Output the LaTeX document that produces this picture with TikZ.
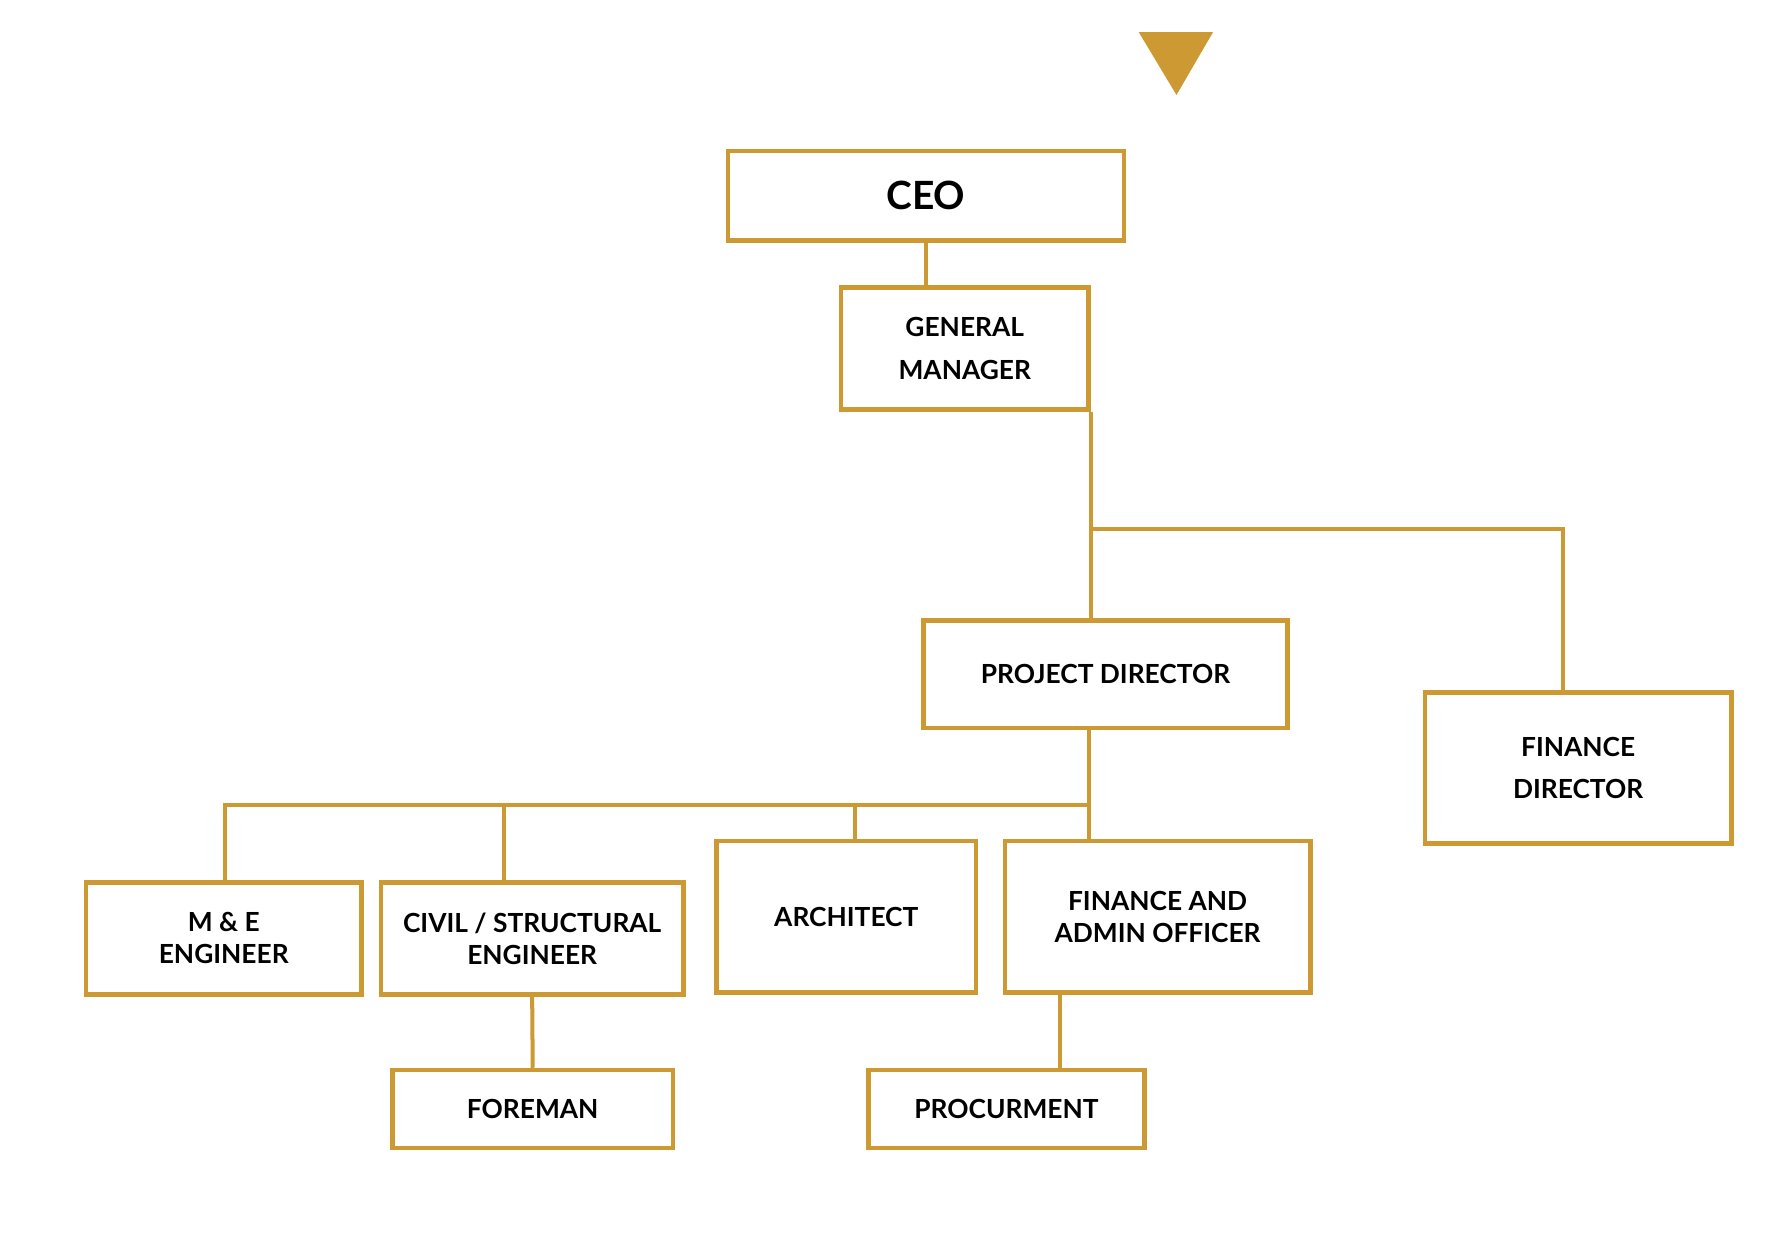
\documentclass[tikz,border=0pt]{standalone}
\usepackage{fontspec}
\setmainfont{Lato}
\definecolor{gold}{HTML}{CC9933}
\begin{document}
\begin{tikzpicture}[x=1pt,y=-1pt]
	\tikzstyle{post}=[rectangle,draw=gold,line width=4pt,align=center,inner sep=0pt,font=\fontsize{23}{28}\selectfont\bfseries]
	\tikzstyle{wide}=[font=\fontsize{23}{37}\selectfont\bfseries]
	\tikzstyle{link}=[draw=gold,line width=3.5pt]
	\useasboundingbox (0,0) rectangle (1565,1088);
	\fill[gold] (995,28) -- (1060,28) -- (1028,83) -- cycle;

	\node[post,minimum width=346pt,minimum height=78pt,font=\fontsize{34}{40}\selectfont\bfseries] (CEO) at (809,171) {CEO};
	\node[post,wide,minimum width=216pt,minimum height=107pt] (GM) at (843,304.5) {GENERAL\\MANAGER};
	\node[post,minimum width=318pt,minimum height=94pt] (PD) at (966,589) {PROJECT DIRECTOR};
	\node[post,wide,minimum width=268pt,minimum height=132pt] (FD) at (1379,671) {FINANCE\\DIRECTOR};

	\node[post,minimum width=241pt,minimum height=98pt] (ME) at (195.5,820) {M \& E\\ENGINEER};
	\node[post,minimum width=264pt,minimum height=98pt] (CS) at (465,820) {CIVIL / STRUCTURAL\\ENGINEER};
	\node[post,minimum width=227pt,minimum height=132pt] (AR) at (739.5,801) {ARCHITECT};
	\node[post,minimum width=267pt,minimum height=132pt] (FA) at (1011.5,801) {FINANCE AND\\ADMIN OFFICER};
	\node[post,minimum width=245pt,minimum height=68pt] (FM) at (465.5,969) {FOREMAN};
	\node[post,minimum width=241pt,minimum height=68pt] (PR) at (879.5,969) {PROCURMENT};

	\coordinate (J1) at (953,462);
	\coordinate (J2) at (952,703);

	\path[link] (CEO.south) -- (CEO.south |- GM.north);
	\path[link] (GM.south east) -- (GM.south east |- PD.north);
	\path[link] (J1) -| ([xshift=-13pt]FD.north);
	\path[link] (J2 |- PD.south) -- (J2 |- FA.north);
	\path[link] (J2) -| ([xshift=1.5pt]ME.north);
	\path[link] (J2 -| CS.north) ++(-25,0) coordinate (c1) -- (c1 |- CS.north);
	\path[link] (J2 -| AR.north) ++(7.5,0) coordinate (a1) -- (a1 |- AR.north);
	\path[link] (CS.south) -- (FM.north);
	\path[link] ([xshift=-85.5pt]FA.south) -- ([xshift=-85.5pt]FA.south |- PR.north);
\end{tikzpicture}
\end{document}
